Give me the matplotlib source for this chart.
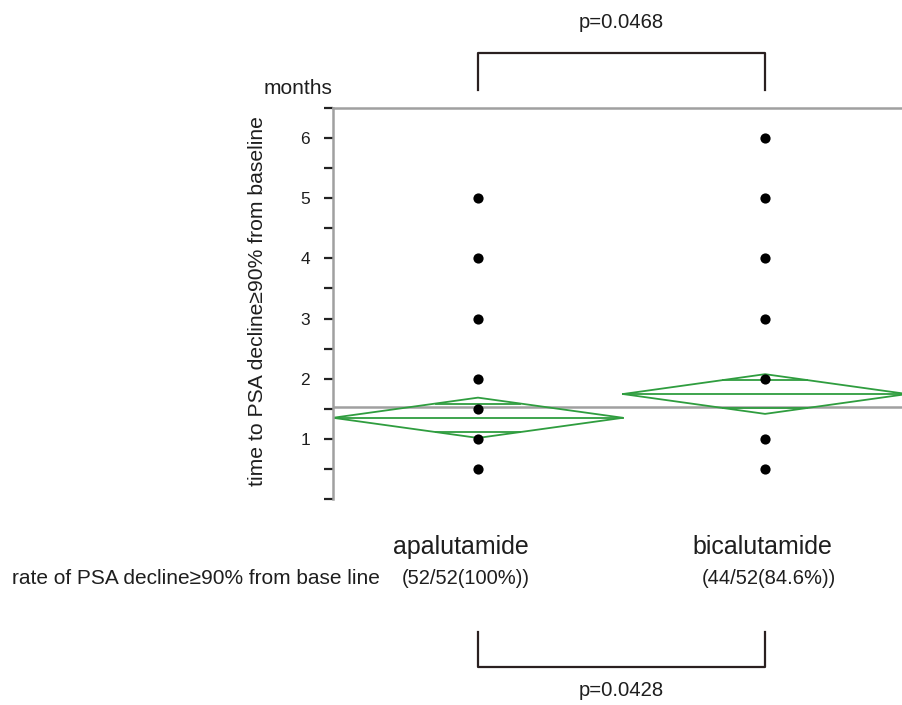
import matplotlib
matplotlib.use("Agg")
import matplotlib.pyplot as plt
from matplotlib import font_manager
from matplotlib.transforms import blended_transform_factory
import numpy as np

names = {f.name for f in font_manager.fontManager.ttflist}
fam = "Liberation Sans Narrow" if "Liberation Sans Narrow" in names else "Liberation Sans"
plt.rcParams['font.family'] = [fam, 'DejaVu Sans']

# ---- data ----
groups = ["apalutamide", "bicalutamide"]
rates = ["(52/52(100%))", "(44/52(84.6%))"]
apal_vals = [5, 4, 3, 2, 1.5, 1, 0.5]
bical_vals = [6, 5, 4, 3, 2, 1, 0.5]
means = [1.35, 1.745]
ci_half = [0.335, 0.33]
diamond_halfwidth = [0.505, 0.495]
grand_mean = 1.53
p_top = "p=0.0468"
p_bottom = "p=0.0428"

W, H = 902, 705
fig = plt.figure(figsize=(W / 100, H / 100), dpi=100)

def fx(px):
    return px / W

def fy(py):
    return 1 - py / H

ax = fig.add_axes([fx(333), fy(499), fx(902) - fx(333), fy(108) - fy(499)])
ax.set_xlim(-0.505, 1.477)
ax.set_ylim(0, 6.5)

green = "#2f9d3f"
gray = "#a0a0a0"
txt = "#1e1e1e"

# grand mean line
ax.axhline(grand_mean, color=gray, lw=1.8, zorder=1)

# diamonds
for i, (m, h, w) in enumerate(zip(means, ci_half, diamond_halfwidth)):
    xs = [i - w, i, i + w, i, i - w]
    ys = [m, m + h, m, m - h, m]
    ax.plot(xs, ys, color=green, lw=1.3, zorder=2)
    ax.plot([i - w, i + w], [m, m], color=green, lw=1.3, zorder=2)
    d = h / np.sqrt(2)
    ww = w * (1 - d / h)
    for s in (1, -1):
        ax.plot([i - ww, i + ww], [m + s * d, m + s * d], color=green, lw=1.3, zorder=2)

# points
for i, vals in enumerate([apal_vals, bical_vals]):
    ax.scatter([i] * len(vals), vals, s=54, color="black", zorder=3, linewidths=0)

# spines
for sp in ["right", "bottom"]:
    ax.spines[sp].set_visible(False)
ax.spines["left"].set_color(gray)
ax.spines["left"].set_linewidth(1.8)
ax.spines["top"].set_color(gray)
ax.spines["top"].set_linewidth(1.8)

ax.set_xticks([])
yt = np.arange(0, 6.51, 0.5)
ax.set_yticks(yt)
ax.set_yticklabels([str(int(v)) if (v == int(v) and 1 <= v <= 6) else "" for v in yt])
ax.tick_params(axis="y", length=6.5, width=1.6, color="#222222", labelsize=12.5, pad=10, labelcolor=txt)

ax.set_ylabel("time to PSA decline≥90% from baseline", fontsize=15.2, color=txt)
ax.yaxis.label.set_va("center")
ax.yaxis.set_label_coords(-0.132, 0.506)
fig.text(fx(298), fy(88), "months", fontsize=15, ha="center", va="center", color=txt)

# category labels
tr = blended_transform_factory(ax.transData, fig.transFigure)
offs = [-17 / 287, -3 / 287]
roffs = [-12 / 287, 4 / 287]
for i, g in enumerate(groups):
    ax.text(i + offs[i], fy(547), g, transform=tr, fontsize=18, ha="center", va="center", color=txt)
    ax.text(i + roffs[i], fy(579), rates[i], transform=tr, fontsize=14.5, ha="center", va="center", color=txt)
fig.text(fx(12), fy(578), "rate of PSA decline≥90% from base line", fontsize=15, ha="left", va="center", color=txt)

# brackets
bc = "#2a2020"
ax.plot([0, 0, 1, 1], [fy(90), fy(53), fy(53), fy(90)], transform=tr, color=bc, lw=1.6, clip_on=False)
ax.text(0.5, fy(22), p_top, transform=tr, fontsize=14.6, ha="center", va="center", color=txt)
ax.plot([0, 0, 1, 1], [fy(632), fy(667), fy(667), fy(632)], transform=tr, color=bc, lw=1.6, clip_on=False)
ax.text(0.5, fy(691), p_bottom, transform=tr, fontsize=14.6, ha="center", va="center", color=txt)

fig.savefig("out.png", dpi=100)
